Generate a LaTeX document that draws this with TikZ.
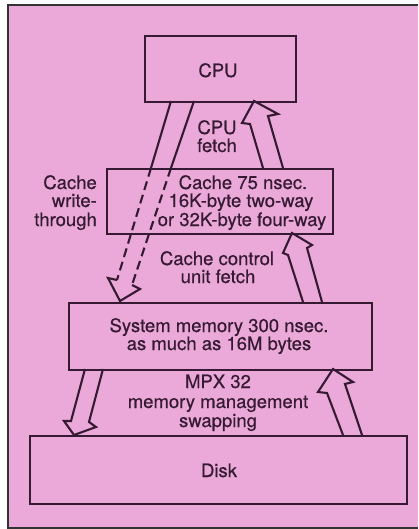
\documentclass[tikz,border=0pt]{standalone}
\usepackage{fontspec}
\setmainfont{TeX Gyre Heros}[FakeBold=0.5]
\definecolor{bgpink}{HTML}{EAA9D8}
\definecolor{ink}{HTML}{361A33}
\begin{document}
\begin{tikzpicture}[x=1bp,y=-1bp,
  box/.style={draw=ink, line width=2.1bp, fill=bgpink, inner sep=0pt, anchor=north west},
  txt/.style={text=ink, anchor=base, inner sep=0pt, font=\fontsize{18.5bp}{18.5bp}\selectfont},
  txtr/.style={txt, anchor=base east},
  arr/.style={draw=ink, line width=2.1bp, line join=miter},
  dsh/.style={arr, dash pattern=on 9bp off 5bp}]
\useasboundingbox (0,0) rectangle (418,529);
\fill[bgpink] (8,5) rectangle (418,529);
\draw[line width=2.2bp, color=black!80] (418,5) -- (8,5) -- (8,528) -- (418,528);

% boxes
\node[box, minimum width=151bp, minimum height=66bp] (cpu) at (144,35) {};
\node[box, minimum width=226bp, minimum height=65bp] (cache) at (106,168) {};
\node[box, minimum width=303bp, minimum height=67bp] (mem) at (68,302) {};
\node[box, minimum width=377bp, minimum height=68bp] (disk) at (29,435) {};

% CPU fetch arrow (cache -> CPU)
\draw[arr] (263,168) -- (250,124) -- (242,123) -- (254,101) -- (278,114) -- (268,116) -- (283,168);

% cache write-through arrow (CPU -> memory)
\draw[arr] (171,101) -- (151,168);
\draw[arr] (194,101) -- (171,168);
\draw[dsh] (151,168) -- (117,280);
\draw[dsh] (171,168) -- (132,285);
\draw[arr] (117,280) -- (108,278) -- (120,301) -- (140,289) -- (132,285);

% cache control unit fetch (memory -> cache)
\draw[arr] (303,302) -- (288,255) -- (283,253) -- (292,233) -- (312,245) -- (307,248) -- (322,302);

% swapping memory -> disk
\draw[arr] (85,369) -- (71,421) -- (64,421) -- (74,435) -- (96,427) -- (89,422) -- (103,369);
% swapping disk -> memory
\draw[arr] (343,435) -- (327,393) -- (318,392) -- (333,369) -- (353,382) -- (345,384) -- (362,435);

% texts
\node[txt] (tcpu) at (218,77) {CPU};
\node[txt] (tf1) at (217,134) {CPU};
\node[txt] (tf2) at (217,152) {fetch};
\node[txt] (tc1) at (243,189) {Cache 75 nsec.};
\node[txt] (tc2) at (241,207) {16K-byte two-way};
\node[txt] (tc3) at (242,226) {or 32K-byte four-way};
\node[txtr] (tw1) at (97,189) {Cache};
\node[txtr] (tw2) at (97,207) {write-};
\node[txtr] (tw3) at (97,226) {through};
\node[txt] (tu1) at (217,265) {Cache control};
\node[txt] (tu2) at (218,283) {unit fetch};
\node[txt] (tm1) at (219,332) {System memory 300 nsec.};
\node[txt] (tm2) at (219,350) {as much as 16M bytes};
\node[txt] (tx1) at (218,388) {MPX 32};
\node[txt] (tx2) at (218,408) {memory management};
\node[txt] (tx3) at (218,427) {swapping};
\node[txt] (td) at (219,477) {Disk};
\end{tikzpicture}
\end{document}
